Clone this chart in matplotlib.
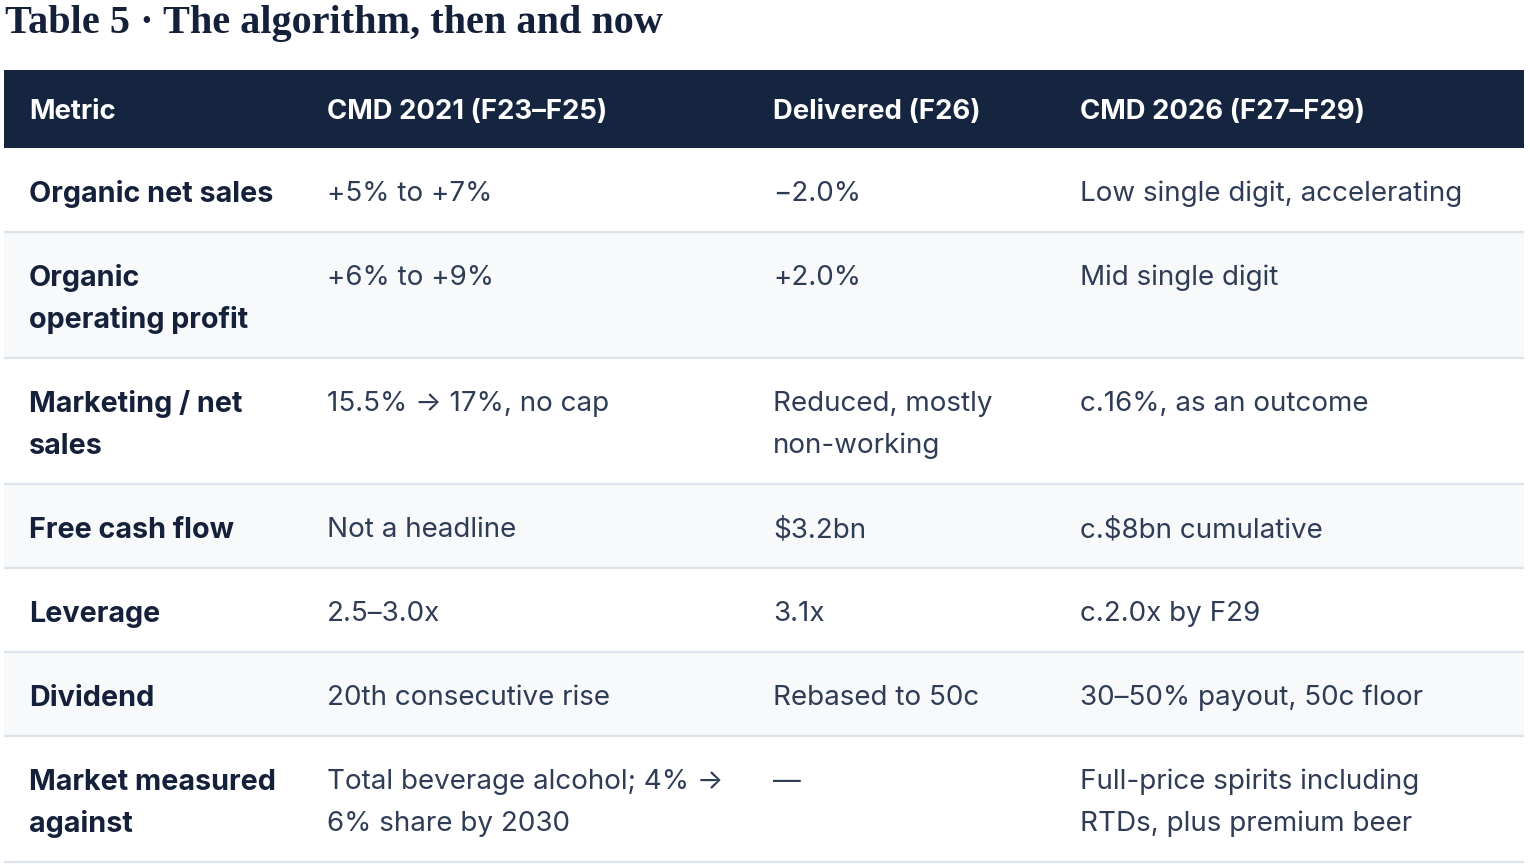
import matplotlib
matplotlib.use("Agg")
from matplotlib import pyplot as plt
from matplotlib.patches import Rectangle

title = "Table 5 \u00b7 The algorithm, then and now"
columns = ["Metric", "CMD 2021 (F23\u2013F25)", "Delivered (F26)", "CMD 2026 (F27\u2013F29)"]
metrics = ["Organic net sales", "Organic\noperating profit", "Marketing / net\nsales",
           "Free cash flow", "Leverage", "Dividend", "Market measured\nagainst"]
cmd_2021 = ["+5% to +7%", "+6% to +9%", "15.5% \u2192 17%, no cap", "Not a headline",
            "2.5\u20133.0x", "20th consecutive rise", "Total beverage alcohol; 4% \u2192\n6% share by 2030"]
delivered = ["\u22122.0%", "+2.0%", "Reduced, mostly\nnon-working", "$3.2bn", "3.1x",
             "Rebased to 50c", "\u2014"]
cmd_2026 = ["Low single digit, accelerating", "Mid single digit", "c.16%, as an outcome",
            "c.$8bn cumulative", "c.2.0x by F29", "30\u201350% payout, 50c floor",
            "Full-price spirits including\nRTDs, plus premium beer"]

W, H = 1530, 868
NAVY = "#152540"
TEXT = "#2f3c56"
LABEL = "#15213a"
STRIPE = "#f7f9fb"
RULE = "#dde3ea"

fig = plt.figure(figsize=(W / 100, H / 100), dpi=100)
ax = fig.add_axes([0, 0, 1, 1])
ax.set_xlim(0, W)
ax.set_ylim(H, 0)
ax.axis("off")

x0, x1 = 4, 1524
col_x = [29, 327, 773, 1080]
fs = 20
line_h = 42

ax.text(5, 23, title, fontsize=29, fontweight="bold", family="Liberation Serif",
        color=LABEL, va="center", ha="left")

# header
head_top, head_h = 70, 78
ax.add_patch(Rectangle((x0, head_top), x1 - x0, head_h, color=NAVY, lw=0))
for cx, name in zip(col_x, columns):
    ax.text(cx, head_top + head_h / 2 + 3, name, fontsize=19.8, fontweight="bold",
            family="Inter", color="white", va="center", ha="left")

# body rows
y = head_top + head_h
for i, row in enumerate(zip(metrics, cmd_2021, delivered, cmd_2026)):
    n = max(s.count("\n") + 1 for s in row)
    h = 84 + (n - 1) * line_h
    if i % 2 == 1:
        ax.add_patch(Rectangle((x0, y), x1 - x0, h, color=STRIPE, lw=0))
    ax.plot([x0, x1], [y + h, y + h], color=RULE, lw=1.6, solid_capstyle="butt")
    for j, (cx, txt) in enumerate(zip(col_x, row)):
        for k, part in enumerate(txt.split("\n")):
            ax.text(cx, y + 46 + k * line_h, part,
                    fontsize=20.7 if j == 0 else fs,
                    fontweight="bold" if j == 0 else "normal",
                    family="Inter", color=LABEL if j == 0 else TEXT,
                    va="center", ha="left")
    y += h

fig.savefig("out.png", dpi=100, facecolor="white")
